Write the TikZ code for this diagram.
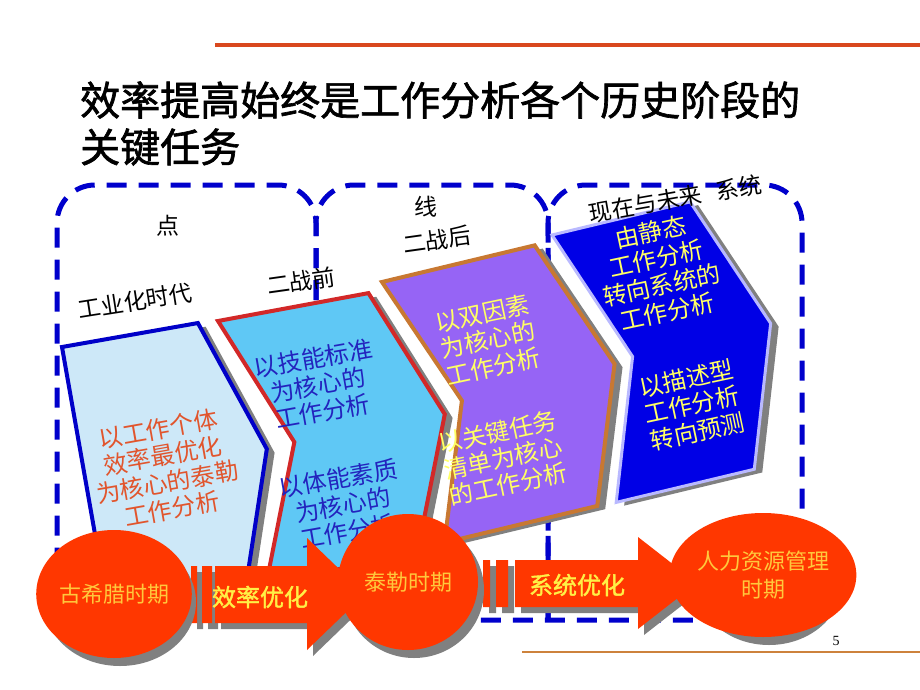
\documentclass[tikz,border=0pt]{standalone}
\usepackage{fontspec}
\setmainfont{Liberation Serif}
\newfontfamily\cjk{Noto Sans CJK SC}
\newfontfamily\cjkheavy{Noto Sans CJK SC}[FakeBold=1.6]
\usetikzlibrary{calc,positioning,shapes}

\definecolor{zoneblue}{RGB}{0,0,204}
\definecolor{rulered}{RGB}{217,72,30}
\definecolor{rulebrown}{RGB}{205,130,60}
\definecolor{ballred}{RGB}{255,55,0}
\definecolor{ballgold}{RGB}{255,200,60}
\definecolor{pushyellow}{RGB}{255,240,70}
\definecolor{ghostgray}{RGB}{128,128,128}
\definecolor{paleblue}{RGB}{205,232,248}
\definecolor{edgeblue}{RGB}{0,0,200}
\definecolor{skyblue}{RGB}{95,200,245}
\definecolor{edgered}{RGB}{210,40,40}
\definecolor{lilac}{RGB}{150,100,245}
\definecolor{edgebrown}{RGB}{200,120,50}
\definecolor{deepblue}{RGB}{0,0,230}
\definecolor{edgelav}{RGB}{185,185,255}
\definecolor{taylortext}{RGB}{225,85,45}
\definecolor{navytext}{RGB}{35,35,190}
\definecolor{softyellow}{RGB}{255,255,100}

\begin{document}
\begin{tikzpicture}[x=1pt,y=-1pt,
  zone/.style={zoneblue,line width=5,dash pattern=on 20pt off 12pt,rounded corners=38},
  tag/.style={font=\cjk\fontsize{23}{23}\selectfont,inner sep=0},
  blurb/.style={font=\cjk\fontsize{24}{27}\selectfont,align=center,inner sep=0},
  era/.style={ellipse,fill=ballred,inner sep=0,font=\cjk\fontsize{22}{28}\selectfont,
    text=ballgold,align=center},
  pushtext/.style={font=\cjkheavy\fontsize{24}{24}\selectfont,text=pushyellow,inner sep=0},
  ghost/.style={fill=ghostgray}
]
  \useasboundingbox[fill=white] (0,0) rectangle (920,690);

  % rules and title
  \draw[rulered,line width=4] (215,45) -- (920,45);
  \draw[rulebrown,line width=2] (522,652) -- (920,652);
  \node[font=\fontsize{14}{14}\selectfont,inner sep=0] (pageno) at (836,641) {5};

  \node[anchor=west,inner sep=0,font=\cjkheavy\fontsize{40}{40}\selectfont]
    (title1) at (80,100) {效率提高始终是工作分析各个历史阶段的};
  \node[anchor=west,inner sep=0,font=\cjkheavy\fontsize{40}{40}\selectfont]
    (title2) at (80,147) {关键任务};

  % dashed zones
  \draw[zone] (316,620) -- (316,185) -- (57,185) -- (57,620) -- (802,620)
    -- (802,185) -- (548,185) -- (548,620);
  \draw[zone] (316,620) -- (316,185) -- (548,185) -- (548,620);

  % stage shapes
  \begin{scope}[shift={(62,347)},rotate=10]
    \fill[ghost,shift={(7,5)}] (0,0) -- (138,0) -- (184,136) -- (138,272) -- (0,272) -- cycle;
    \filldraw[fill=paleblue,draw=edgeblue,line width=4]
      (0,0) -- (138,0) -- (184,136) -- (138,272) -- (0,272) -- cycle;
  \end{scope}
  \begin{scope}[shift={(218,321)},rotate=10.5]
    \fill[ghost,shift={(7,5)}] (0,0) -- (153,0) -- (206,133) -- (153,266) -- (0,266) -- (53,133) -- cycle;
    \filldraw[fill=skyblue,draw=edgered,line width=4]
      (0,0) -- (153,0) -- (206,133) -- (153,266) -- (0,266) -- (53,133) -- cycle;
  \end{scope}
  \begin{scope}[shift={(382,282)},rotate=13.5]
    \fill[ghost,shift={(7,5)}] (0,0) -- (157,0) -- (207,134) -- (157,268) -- (0,268) -- (50,134) -- cycle;
    \filldraw[fill=lilac,draw=edgebrown,line width=4]
      (0,0) -- (157,0) -- (207,134) -- (157,268) -- (0,268) -- (50,134) -- cycle;
  \end{scope}
  \begin{scope}[shift={(552,235)},rotate=13.5]
    \fill[ghost,shift={(7,5)}] (0,0) -- (142,0) -- (192,137) -- (142,275) -- (0,275) -- (50,137) -- cycle;
    \filldraw[fill=deepblue,draw=edgelav,line width=3]
      (0,0) -- (142,0) -- (192,137) -- (142,275) -- (0,275) -- (50,137) -- cycle;
  \end{scope}

  % texts in the shapes
  \node[blurb,text=taylortext,rotate=10] (taylorText) at (165,469)
    {以工作个体\\效率最优化\\为核心的泰勒\\工作分析};
  \node[blurb,text=navytext,rotate=10] (skillText) at (318,385)
    {以技能标准\\为核心的\\工作分析};
  \node[blurb,text=navytext,rotate=10] (bodyText) at (343,505)
    {以体能素质\\为核心的\\工作分析};
  \node[blurb,text=softyellow,rotate=12] (dualText) at (488,340)
    {以双因素\\为核心的\\工作分析};
  \node[blurb,text=softyellow,rotate=12] (taskText) at (503,458)
    {以关键任务\\清单为核心\\的工作分析};
  \node[blurb,text=softyellow,rotate=12] (staticText) at (659,272)
    {由静态\\工作分析\\转向系统的\\工作分析};
  \node[blurb,text=softyellow,rotate=12] (forecastText) at (692,405)
    {以描述型\\工作分析\\转向预测};

  % zone labels
  \node[tag] (dot) at (168,226) {点};
  \node[tag] (line) at (426,207) {线};
  \node[tag,rotate=8] (postwar) at (437,240) {二战后};
  \node[tag,rotate=9] (industry) at (135,301) {工业化时代};
  \node[tag,rotate=8] (prewar) at (301,281) {二战前};
  \node[tag,rotate=10] (future) at (675,199) {现在与未来\hspace{14pt}系统};

  % arrows
  \foreach \s/\c in {6/ghostgray,0/ballred} {
    \fill[\c,shift={(\s,\s)}] (191,566) rectangle (197,623) (202,566) rectangle (212,623)
      (215,566) -- (307,566) -- (307,538) -- (365,594) -- (307,650) -- (307,623)
      -- (215,623) -- cycle;
    \fill[\c,shift={(\s,\s)}] (483,560) rectangle (490,607) (496,560) rectangle (508,607)
      (515,560) -- (638,560) -- (638,537) -- (697,583) -- (638,629) -- (638,607)
      -- (515,607) -- cycle;
  }
  \node[pushtext] (effText) at (260,597) {效率优化};
  \node[pushtext] (sysText) at (577,585) {系统优化};

  % eras
  \foreach \x/\y/\w/\h in {114/594/152/128,408/582/140/136,763/575/146/124}
    \fill[ghostgray] (\x+6,\y+8) ellipse ({\w/2} and {\h/2});
  \node[era,minimum width=152,minimum height=128] (greece) at (114,594) {古希腊时期};
  \node[era,minimum width=140,minimum height=136] (taylor) at (408,582) {泰勒时期};
  \node[era,minimum width=146,minimum height=124] (hrm) at (763,575) {人力资源管理\\时期};
\end{tikzpicture}
\end{document}
